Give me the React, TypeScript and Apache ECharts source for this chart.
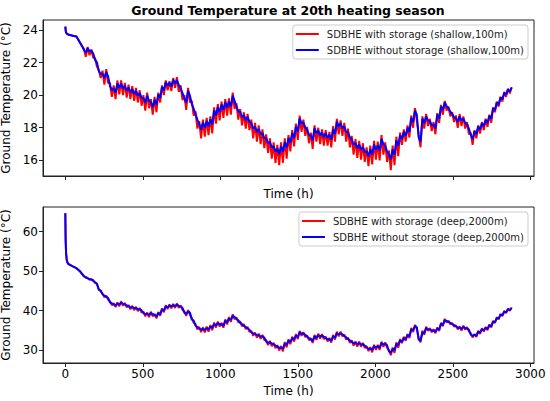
import React, { useEffect, useRef } from "react";
import * as echarts from "echarts";

const TITLE = "Ground Temperature at 20th heating season";
const Y_NAME = "Ground Temperature (°C)";
const X_NAME = "Time (h)";
const X_TICKS = [0, 500, 1000, 1500, 2000, 2500, 3000];
const SHALLOW_Y_TICKS = [16, 18, 20, 22, 24];
const DEEP_Y_TICKS = [30, 40, 50, 60];

const NAME_SHALLOW_WITH = "SDBHE with storage (shallow,100m)";
const NAME_SHALLOW_WITHOUT = "SDBHE without storage (shallow,100m)";
const NAME_DEEP_WITH = "SDBHE with storage (deep,2000m)";
const NAME_DEEP_WITHOUT = "SDBHE without storage (deep,2000m)";

const HOURS_PER_DAY = 24;
const DAYS_PER_SEGMENT = 5;

// first hours before the first daily value
const shallowHeadHours = [0, 4, 12];
const shallowHeadValues = [24.2, 23.85, 23.75];
const deepHeadHours = [0, 2, 5, 10, 16];
const deepHeadValues = [64.6, 58.0, 54.5, 52.6, 52.0];

// daily mean ground temperature, day 1 .. day 120 (h = 24 .. 2880)
const shallowDaily = [
  23.7, 23.65, 23.6, 23.2, 22.7, 22.8, 22.65, 22.1, 21.4, 21.2,
  21.3, 20.45, 20.3, 20.6, 20.6, 20.45, 20.35, 20.25, 20.15, 20.0,
  19.7, 19.85, 19.45, 19.6, 19.95, 20.4, 20.7, 20.65, 20.85, 20.8,
  20.3, 19.7, 20.15, 19.35, 18.7, 18.1, 18.2, 18.3, 18.4, 18.95,
  19.15, 19.3, 19.45, 19.5, 19.85, 19.2, 18.85, 18.65, 18.55, 18.15,
  17.95, 17.8, 17.55, 17.25, 17.0, 16.75, 16.6, 16.75, 17.0, 17.25,
  17.55, 17.95, 18.45, 18.2, 17.75, 17.4, 17.85, 17.7, 17.6, 17.55,
  17.45, 17.8, 18.25, 18.15, 17.95, 17.6, 17.15, 16.95, 16.85, 16.7,
  16.45, 16.55, 16.85, 16.8, 17.2, 16.75, 16.25, 16.55, 17.1, 17.45,
  17.65, 17.9, 18.5, 18.95, 17.3, 18.45, 18.6, 18.3, 18.1, 18.7,
  19.2, 19.45, 19.1, 18.75, 18.5, 18.6, 18.45, 18.1, 17.45, 17.7,
  18.0, 18.2, 18.4, 18.65, 19.15, 19.5, 19.8, 20.1, 20.3, 20.4,
];
const deepDaily = [
  51.7, 51.2, 50.75, 49.9, 48.6, 48.1, 47.8, 47.0, 45.2, 44.0,
  43.4, 42.0, 41.5, 41.7, 41.9, 41.5, 41.0, 40.8, 40.55, 40.25,
  39.3, 39.1, 39.3, 38.75, 39.3, 40.2, 41.0, 41.2, 41.3, 41.4,
  40.9, 39.4, 39.7, 37.7, 36.1, 35.4, 35.3, 35.5, 35.9, 36.5,
  36.75, 36.45, 37.3, 37.9, 38.6, 37.8, 36.8, 36.1, 35.4, 34.45,
  34.0, 33.7, 33.4, 32.1, 31.9, 31.4, 30.8, 30.6, 31.6, 32.3,
  32.95, 33.6, 34.4, 34.1, 33.3, 32.6, 33.4, 33.7, 33.6, 32.95,
  32.65, 33.4, 34.2, 34.2, 33.5, 32.7, 32.0, 31.75, 31.7, 31.4,
  30.6, 30.3, 30.9, 30.9, 31.7, 31.5, 29.6, 30.2, 31.5, 32.4,
  33.0, 33.7, 35.2, 36.0, 32.6, 34.5, 35.5, 35.15, 34.9, 35.4,
  36.6, 37.55, 37.1, 36.5, 35.9, 35.6, 35.8, 35.4, 33.85, 33.8,
  34.6, 35.2, 35.55, 36.2, 37.2, 38.1, 38.95, 39.7, 40.3, 40.6,
];

// daily swing above / below the mean, per 5-day block
const shallowRedUp = [0, 0.15, 0.3, 0.3, 0.3, 0.2, 0.3, 0.3, 0.3, 0.3, 0.35, 0.35, 0.3, 0.3, 0.3, 0.35, 0.35, 0.35, 0.25, 0.25, 0.2, 0.25, 0.15, 0.1];
const shallowRedDown = [0, 0.35, 0.55, 0.6, 0.65, 0.4, 0.6, 0.75, 0.7, 0.7, 0.8, 0.9, 0.7, 0.7, 0.65, 0.8, 0.8, 0.85, 0.5, 0.5, 0.4, 0.5, 0.35, 0.2];
const shallowBlueUp = [0, 0.08, 0.12, 0.12, 0.12, 0.1, 0.12, 0.12, 0.12, 0.12, 0.12, 0.12, 0.12, 0.12, 0.12, 0.12, 0.12, 0.12, 0.1, 0.1, 0.1, 0.1, 0.08, 0.05];
const shallowBlueDown = [0, 0.1, 0.15, 0.18, 0.18, 0.12, 0.18, 0.2, 0.2, 0.2, 0.2, 0.22, 0.18, 0.18, 0.18, 0.2, 0.2, 0.2, 0.15, 0.15, 0.12, 0.15, 0.1, 0.06];
const deepRedUp = [0, 0.2, 0.4, 0.45, 0.45, 0.4, 0.45, 0.5, 0.5, 0.5, 0.5, 0.5, 0.5, 0.5, 0.5, 0.5, 0.5, 0.5, 0.45, 0.45, 0.4, 0.45, 0.35, 0.25];
const deepRedDown = [0, 0.3, 0.6, 0.65, 0.7, 0.6, 0.7, 0.8, 0.75, 0.75, 0.8, 0.85, 0.75, 0.75, 0.7, 0.8, 0.8, 0.85, 0.6, 0.6, 0.5, 0.6, 0.45, 0.3];
const deepBlueUp = [0, 0.08, 0.12, 0.12, 0.12, 0.12, 0.12, 0.12, 0.12, 0.12, 0.12, 0.12, 0.12, 0.12, 0.12, 0.12, 0.12, 0.12, 0.12, 0.12, 0.1, 0.12, 0.1, 0.06];
const deepBlueDown = [0, 0.1, 0.15, 0.18, 0.18, 0.15, 0.18, 0.2, 0.2, 0.2, 0.2, 0.2, 0.2, 0.2, 0.2, 0.2, 0.2, 0.2, 0.18, 0.18, 0.15, 0.18, 0.12, 0.08];

function buildSeries(
  headHours: number[],
  headValues: number[],
  daily: number[],
  up: number[],
  down: number[]
): number[][] {
  const pts: number[][] = headHours.map((h, i) => [h, headValues[i]]);
  daily.forEach((v, k) => {
    const day = k + 1;
    const seg = Math.min(Math.floor(day / DAYS_PER_SEGMENT), up.length - 1);
    const hi = up[seg];
    const lo = down[seg];
    const h = day * HOURS_PER_DAY;
    if (hi === 0 && lo === 0) {
      pts.push([h, v]);
      return;
    }
    pts.push([h, +(v + hi).toFixed(3)]);
    if (k < daily.length - 1) pts.push([h + HOURS_PER_DAY / 2, +(v - lo).toFixed(3)]);
  });
  return pts;
}

const FONT = "DejaVu Sans";
const AX = "#222";
const plain = (v: number) => String(v);

function xAxis(gridIndex: number, showLabels: boolean, nameGap: number) {
  return {
    type: "value",
    gridIndex,
    min: -144,
    max: 3024,
    name: X_NAME,
    nameLocation: "middle",
    nameGap,
    nameTextStyle: { fontSize: 12, color: "#000", fontFamily: FONT },
    axisLine: { show: true, onZero: false, lineStyle: { color: AX, width: 1 } },
    axisTick: { show: true, length: 4, inside: false, customValues: X_TICKS, lineStyle: { color: AX } },
    axisLabel: { show: showLabels, customValues: X_TICKS, formatter: plain, margin: 5, fontSize: 12, color: "#000", fontFamily: FONT },
    splitLine: { show: false },
  };
}

function yAxis(gridIndex: number, min: number, max: number, ticks: number[]) {
  return {
    type: "value",
    gridIndex,
    min,
    max,
    name: Y_NAME,
    nameLocation: "middle",
    nameGap: 22,
    nameRotate: 90,
    nameTextStyle: { fontSize: 12, color: "#000", fontFamily: FONT },
    axisLine: { show: true, onZero: false, lineStyle: { color: AX, width: 1 } },
    axisTick: { show: true, length: 4, inside: false, customValues: ticks, lineStyle: { color: AX } },
    axisLabel: { show: true, customValues: ticks, formatter: plain, margin: 5, fontSize: 12, color: "#000", fontFamily: FONT },
    splitLine: { show: false },
  };
}

function legend(names: string[], top: number) {
  return {
    data: names,
    orient: "vertical",
    right: 22,
    top,
    icon: "rect",
    itemWidth: 23,
    itemHeight: 2,
    itemGap: 4,
    padding: [3, 4, 3, 3],
    backgroundColor: "#fff",
    borderColor: "#ccc",
    borderWidth: 1,
    borderRadius: 3,
    textStyle: { fontSize: 10, color: "#222", fontFamily: FONT, lineHeight: 12, padding: [0, 0, 0, 3] },
  };
}

function line(name: string, color: string, xi: number, data: number[][]) {
  return {
    name,
    type: "line",
    xAxisIndex: xi,
    yAxisIndex: xi,
    data,
    showSymbol: false,
    symbol: "none",
    lineStyle: { color, width: 2 },
    itemStyle: { color },
    emphasis: { disabled: true },
  };
}

const gridBase = {
  left: 43,
  right: 16,
  height: 156,
  show: true,
  borderColor: AX,
  borderWidth: 1,
  backgroundColor: "transparent",
  containLabel: false,
  outerBoundsMode: "none",
};

export default function App() {
  const ref = useRef<HTMLDivElement>(null);
  useEffect(() => {
    if (!ref.current) return;
    const chart = echarts.init(ref.current, undefined, { renderer: "svg" });
    chart.setOption({
      animation: false,
      backgroundColor: "#fff",
      textStyle: { fontFamily: FONT },
      title: {
        text: TITLE,
        left: 288,
        top: 4,
        padding: 0,
        textAlign: "center",
        textStyle: { fontSize: 12.5, fontWeight: "bold", color: "#000", fontFamily: FONT },
      },
      grid: [
        { ...gridBase, top: 20 },
        { ...gridBase, top: 207 },
      ],
      xAxis: [xAxis(0, false, 12), xAxis(1, true, 22)],
      yAxis: [yAxis(0, 15.04, 24.61, SHALLOW_Y_TICKS), yAxis(1, 26.8, 66.2, DEEP_Y_TICKS)],
      legend: [legend([NAME_SHALLOW_WITH, NAME_SHALLOW_WITHOUT], 25), legend([NAME_DEEP_WITH, NAME_DEEP_WITHOUT], 212)],
      series: [
        line(NAME_SHALLOW_WITH, "#ff0000", 0, buildSeries(shallowHeadHours, shallowHeadValues, shallowDaily, shallowRedUp, shallowRedDown)),
        line(NAME_SHALLOW_WITHOUT, "#0000ff", 0, buildSeries(shallowHeadHours, shallowHeadValues, shallowDaily, shallowBlueUp, shallowBlueDown)),
        line(NAME_DEEP_WITH, "#ff0000", 1, buildSeries(deepHeadHours, deepHeadValues, deepDaily, deepRedUp, deepRedDown)),
        line(NAME_DEEP_WITHOUT, "#0000ff", 1, buildSeries(deepHeadHours, deepHeadValues, deepDaily, deepBlueUp, deepBlueDown)),
      ],
    });
    return () => chart.dispose();
  }, []);
  return (
    <div
      ref={ref}
      style={{ position: "fixed", left: 0, top: 0, width: 550, height: 401, background: "#fff" }}
    />
  );
}
